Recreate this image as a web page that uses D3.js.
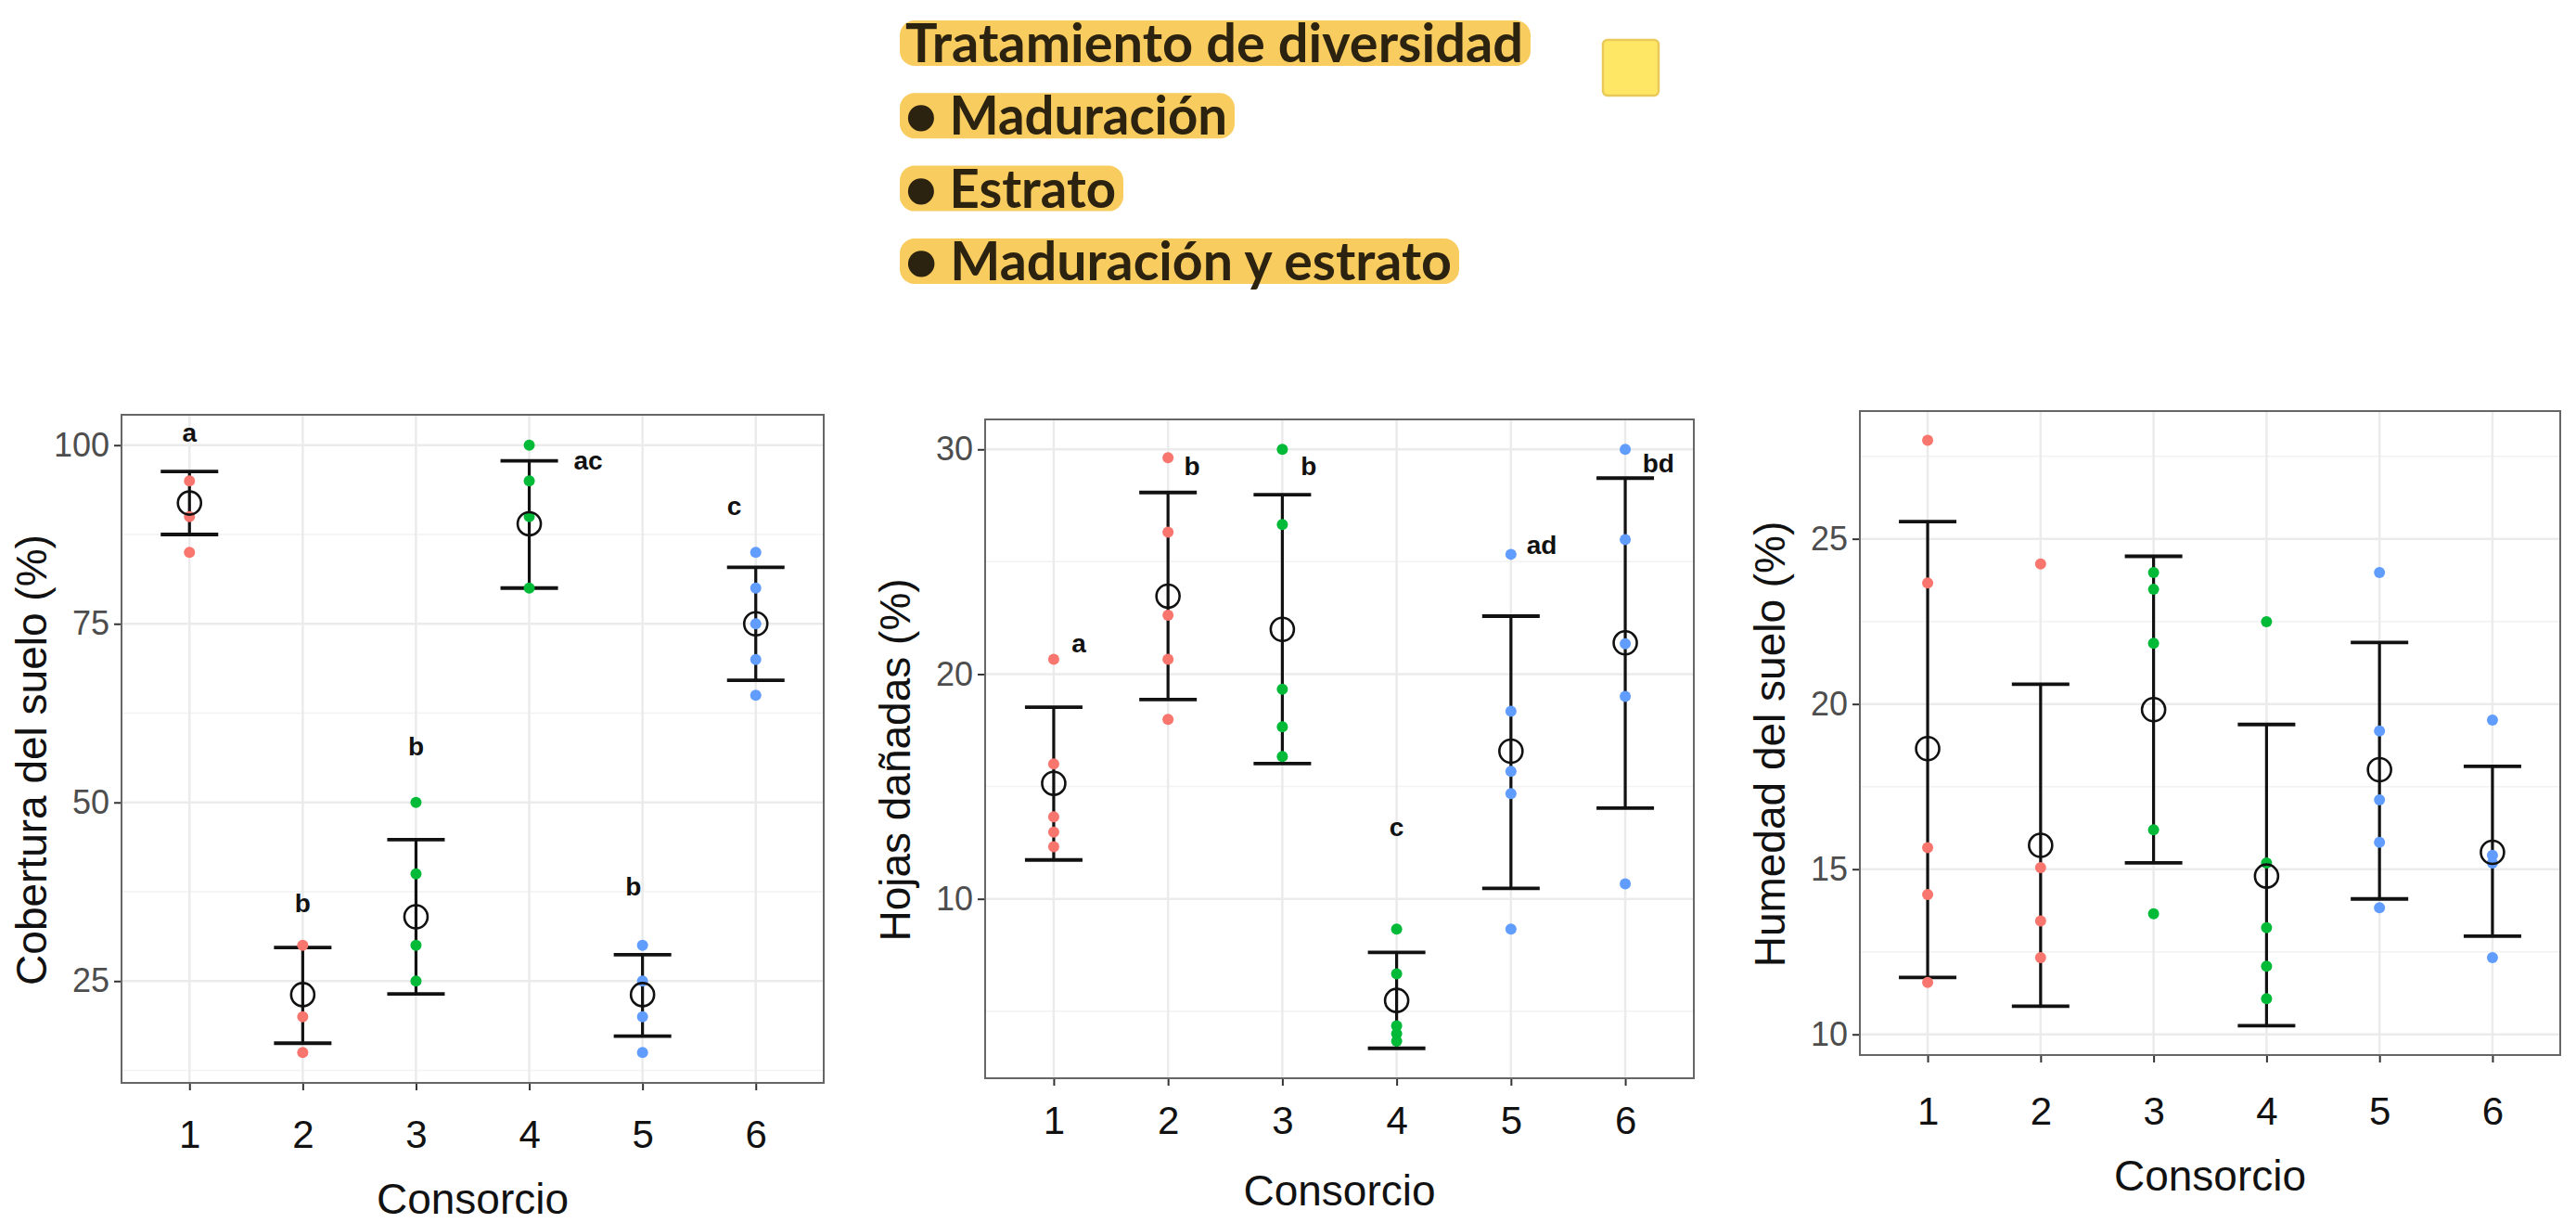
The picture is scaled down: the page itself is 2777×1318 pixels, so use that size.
<!DOCTYPE html>
<html><head><meta charset="utf-8">
<script src="https://cdn.jsdelivr.net/npm/d3@7"></script>
<style>body{margin:0;background:#fff} svg{display:block}</style>
</head><body><svg id="c" width="2777" height="1318"></svg>
<script>
// ---------- DATA ----------
const consorcios = ["1","2","3","4","5","6"];
const tratamientoGrupo = [0,0,1,1,2,2];
const legendLines = ["Tratamiento de diversidad","● Maduración","● Estrato","● Maduración y estrato"];

const coberturaPuntos = [[95,90,85],[30,20,15],[50,40,30,25],[100,95,90,80],[30,25,20,15],[85,80,75,70,65]];
const coberturaMedia = [91.9,23.1,34,89,23.1,75];
const coberturaSup = [96.3,29.7,44.8,97.8,28.7,82.9];
const coberturaInf = [87.5,16.3,23.2,80,17.3,67.1];
const coberturaLetras = ["a","b","b","ac","b","c"];
const coberturaLetrasY = [101.8,35.9,57.9,97.9,38.3,91.5];
const coberturaLetrasDx = [0,0,0,0.52,-0.08,-0.19];
const coberturaTicks = [25,50,75,100];

const hojasPuntos = [[20.66,16.0,13.65,12.97,12.32],[29.63,26.32,22.62,20.66,17.99],[30,26.66,19.33,17.66,16.33],[8.65,6.66,4.35,4.0,3.67],[25.33,18.35,15.67,14.68,8.65],[30,25.99,21.35,19.01,10.67]];
const hojasMedia = [15.14,23.47,21.99,5.48,16.57,21.39];
const hojasSup = [18.53,28.08,27.98,7.62,22.58,28.72];
const hojasInf = [11.73,18.87,16.02,3.35,10.47,14.04];
const hojasLetras = ["a","b","b","c","ad","bd"];
const hojasLetrasY = [21.37,29.24,29.24,13.21,25.74,29.38];
const hojasLetrasDx = [0.22,0.21,0.23,0,0.27,0.29];
const hojasTicks = [10,20,30];

const humedadPuntos = [[27.98,23.66,15.65,14.23,11.57],[24.24,15.05,13.43,12.32],[23.98,23.47,21.84,16.19,13.65],[22.49,15.19,13.23,12.06,11.08],[23.98,19.18,17.1,15.81,13.83],[19.51,15.42,15.19,12.32]];
const humedadMedia = [18.65,15.72,19.83,14.79,18.01,15.51];
const humedadSup = [25.52,20.6,24.47,19.38,21.86,18.11];
const humedadInf = [11.72,10.85,15.19,10.26,14.1,12.97];
const humedadTicks = [10,15,20,25];

// ---------- LAYOUT ----------
const svg = d3.select("#c");
const color = d3.scaleOrdinal().domain([0,1,2]).range(["#F8766D","#00BA38","#619CFF"]);
const FONT = "'Liberation Sans', Arial, Helvetica, sans-serif";

const panels = [
  {title:"Cobertura del suelo (%)", pts:coberturaPuntos, mean:coberturaMedia, sup:coberturaSup, inf:coberturaInf,
   labels:coberturaLetras, labelY:coberturaLetrasY, labelDx:coberturaLetrasDx, ticks:coberturaTicks,
   left:131, right:888, top:447, bottom:1167, xlabOff:55, xtitleOff:125},
  {title:"Hojas dañadas (%)", pts:hojasPuntos, mean:hojasMedia, sup:hojasSup, inf:hojasInf,
   labels:hojasLetras, labelY:hojasLetrasY, labelDx:hojasLetrasDx, ticks:hojasTicks,
   left:1062, right:1826, top:452, bottom:1162, xlabOff:45, xtitleOff:121},
  {title:"Humedad del suelo (%)", pts:humedadPuntos, mean:humedadMedia, sup:humedadSup, inf:humedadInf,
   labels:null, ticks:humedadTicks,
   left:2005, right:2760, top:443, bottom:1137, xlabOff:60, xtitleOff:130}
];

panels.forEach(p => {
  const g = svg.append("g");
  const x = d3.scalePoint().domain(consorcios).range([p.left, p.right]).padding(0.6);
  const all = p.pts.flat().concat(p.sup, p.inf);
  const lo = d3.min(all), hi = d3.max(all), pad = (hi - lo) * 0.05;
  const y = d3.scaleLinear().domain([lo - pad, hi + pad]).range([p.bottom, p.top]);

  // minor grid
  const major = p.ticks;
  const step = major[1] - major[0];
  const minor = [];
  for (let v = major[0] - step/2; v <= y.domain()[1]; v += step) if (v >= y.domain()[0]) minor.push(v);
  g.selectAll(".minor").data(minor).join("line")
    .attr("x1", p.left).attr("x2", p.right).attr("y1", d => y(d)).attr("y2", d => y(d))
    .attr("stroke", "#F2F2F2").attr("stroke-width", 1.5);
  g.selectAll(".major").data(major).join("line")
    .attr("x1", p.left).attr("x2", p.right).attr("y1", d => y(d)).attr("y2", d => y(d))
    .attr("stroke", "#EBEBEB").attr("stroke-width", 2.5);
  g.selectAll(".vgrid").data(consorcios).join("line")
    .attr("x1", d => x(d)).attr("x2", d => x(d)).attr("y1", p.top).attr("y2", p.bottom)
    .attr("stroke", "#EBEBEB").attr("stroke-width", 2.5);

  // axes
  const yAxis = g.append("g").attr("transform", `translate(${p.left},0)`)
    .call(d3.axisLeft(y).tickValues(major).tickSize(8).tickPadding(5));
  yAxis.select(".domain").remove();
  yAxis.selectAll("line").attr("stroke", "#333").attr("stroke-width", 2);
  yAxis.selectAll("text").attr("font-family", FONT).attr("font-size", 36).attr("fill", "#4D4D4D");

  const xAxis = g.append("g").attr("transform", `translate(0,${p.bottom})`)
    .call(d3.axisBottom(x).tickSize(8).tickPadding(0));
  xAxis.select(".domain").remove();
  xAxis.selectAll("line").attr("stroke", "#333").attr("stroke-width", 2);
  xAxis.selectAll("text").attr("font-family", FONT).attr("font-size", 42).attr("fill", "#111")
    .attr("y", p.xlabOff).attr("dy", "0.35em");

  // border
  g.append("rect").attr("x", p.left).attr("y", p.top)
    .attr("width", p.right - p.left).attr("height", p.bottom - p.top)
    .attr("fill", "none").attr("stroke", "#666").attr("stroke-width", 2);

  // titles
  g.append("text").attr("x", (p.left + p.right) / 2).attr("y", p.bottom + p.xtitleOff)
    .attr("dy", "0.35em").attr("text-anchor", "middle")
    .attr("font-family", FONT).attr("font-size", 46).attr("fill", "#111").text("Consorcio");
  g.append("text")
    .attr("transform", `translate(${p.left - 97},${(p.top + p.bottom) / 2 + 12}) rotate(-90)`)
    .attr("dy", "0.35em").attr("text-anchor", "middle")
    .attr("font-family", FONT).attr("font-size", 46).attr("fill", "#111").text(p.title);

  // error bars
  const capW = 31;
  const eb = g.selectAll(".eb").data(consorcios).join("g");
  eb.append("line").attr("x1", d => x(d)).attr("x2", d => x(d))
    .attr("y1", (d,i) => y(p.sup[i])).attr("y2", (d,i) => y(p.inf[i]))
    .attr("stroke", "#111").attr("stroke-width", 3.2);
  eb.append("line").attr("x1", d => x(d) - capW).attr("x2", d => x(d) + capW)
    .attr("y1", (d,i) => y(p.sup[i])).attr("y2", (d,i) => y(p.sup[i]))
    .attr("stroke", "#111").attr("stroke-width", 3.8);
  eb.append("line").attr("x1", d => x(d) - capW).attr("x2", d => x(d) + capW)
    .attr("y1", (d,i) => y(p.inf[i])).attr("y2", (d,i) => y(p.inf[i]))
    .attr("stroke", "#111").attr("stroke-width", 3.8);

  // points
  const pts = [];
  p.pts.forEach((arr, i) => arr.forEach(v => pts.push({c: consorcios[i], v, t: tratamientoGrupo[i]})));
  g.selectAll(".pt").data(pts).join("circle")
    .attr("cx", d => x(d.c)).attr("cy", d => y(d.v)).attr("r", 6)
    .attr("fill", d => color(d.t));

  // means
  g.selectAll(".mean").data(consorcios).join("circle")
    .attr("cx", d => x(d)).attr("cy", (d,i) => y(p.mean[i])).attr("r", 12.5)
    .attr("fill", "none").attr("stroke", "#111").attr("stroke-width", 2.6);

  // letters
  if (p.labels) {
    const stepX = x.step();
    g.selectAll(".lab").data(consorcios).join("text")
      .attr("x", (d,i) => x(d) + p.labelDx[i] * stepX).attr("y", (d,i) => y(p.labelY[i]))
      .attr("dy", "0.35em").attr("text-anchor", "middle")
      .attr("font-family", FONT).attr("font-weight", "bold").attr("font-size", 28).attr("fill", "#111")
      .text((d,i) => p.labels[i]);
  }
});

// ---------- LEGEND ----------
const leg = svg.append("g");
const baseY = [67, 145.3, 223.6, 302];
const lineW = [666, 347, 227, 589];
legendLines.forEach((t, i) => {
  const row = leg.append("g");
  row.append("rect").attr("fill", "#F8CC5E")
    .attr("x", 970).attr("y", baseY[i] - 45).attr("width", lineW[i] + 14).attr("height", 49).attr("rx", 16);
  row.append("text").attr("x", 976).attr("y", baseY[i])
    .attr("font-family", "Lato, sans-serif").attr("font-weight", 700).attr("font-size", 57)
    .attr("fill", "#2B2210")
    .attr("textLength", lineW[i]).attr("lengthAdjust", "spacingAndGlyphs")
    .text(t);
});
leg.append("rect").attr("x", 1728).attr("y", 43).attr("width", 60).attr("height", 60).attr("rx", 5)
  .attr("fill", "#FFE766").attr("stroke", "#E9C95A").attr("stroke-width", 2.5);
</script></body></html>
